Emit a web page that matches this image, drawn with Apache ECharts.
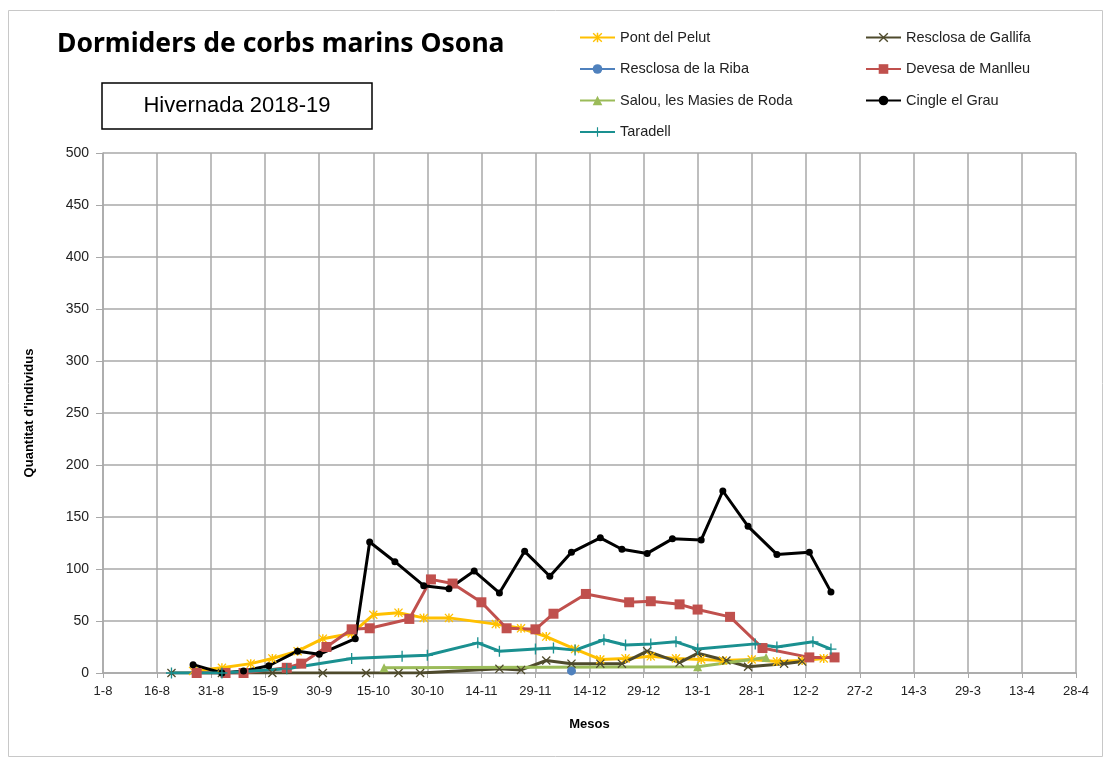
<!DOCTYPE html>
<html>
<head>
<meta charset="utf-8">
<script src="https://cdn.jsdelivr.net/npm/echarts@6/dist/echarts.min.js"></script>
<style>
  html, body { margin: 0; padding: 0; background: #fff; }
  #chart { width: 1104px; height: 760px; }
</style>
</head>
<body>
<div id="chart"></div>
<script>
// dies des de l'1 d'agost de 2018
const pelutDays = [25, 33, 41, 47, 54, 61, 69, 75, 82, 89, 96, 109, 116, 123, 131, 138, 145, 152, 159, 166, 172, 180, 187, 194, 200];
const pelutVals = [2, 5, 9, 14, 21, 33, 38, 56, 58, 53, 53, 47, 43, 35, 23, 13, 14, 16, 14, 13, 12, 13, 11, 12, 14];

const gallifaDays = [19, 33, 47, 61, 73, 82, 88, 110, 116, 123, 130, 138, 144, 151, 160, 165, 173, 179, 189, 194];
const gallifaVals = [0, 0, 0, 0, 0, 0, 0, 4, 3, 12, 9, 9, 9, 21, 10, 19, 12, 6, 9, 11];

const ribaDays = [130];
const ribaVals = [2];

const manlleuDays = [26, 34, 39, 51, 55, 62, 69, 74, 85, 91, 97, 105, 112, 120, 125, 134, 146, 152, 160, 165, 174, 183, 196, 203];
const manlleuVals = [0, 0, 0, 5, 9, 25, 42, 43, 52, 90, 86, 68, 43, 42, 57, 76, 68, 69, 66, 61, 54, 24, 15, 15];

const salouDays = [78, 165, 184];
const salouVals = [5, 6, 15];

const grauDays = [25, 33, 39, 46, 54, 60, 70, 74, 81, 89, 96, 103, 110, 117, 124, 130, 138, 144, 151, 158, 166, 172, 179, 187, 196, 202];
const grauVals = [8, 0, 2, 7, 21, 18, 33, 126, 107, 84, 81, 98, 77, 117, 93, 116, 130, 119, 115, 129, 128, 175, 141, 114, 116, 78];

const taradellDays = [19, 33, 51, 69, 83, 90, 104, 110, 120, 125, 131, 139, 145, 152, 159, 165, 181, 187, 197, 202];
const taradellVals = [0, 0, 4, 14, 16, 17, 29, 21, 23, 24, 22, 32, 27, 28, 30, 23, 28, 25, 30, 23];

const startDate = Date.UTC(2018, 7, 1);
const FontColor = '#222';
const GridColor = '#a8a8a8';

// simbols tipus Excel
const xPath = 'path://M1,0 L5,4 L9,0 L10,1 L6,5 L10,9 L9,10 L5,6 L1,10 L0,9 L4,5 L0,1 Z';
const starPath = 'path://M1,0 L5,4 L9,0 L10,1 L6,5 L10,9 L9,10 L5,6 L1,10 L0,9 L4,5 L0,1 Z M4.2,0 H5.8 V10 H4.2 Z';
const plusPath = 'path://M4.4,0 H5.6 V4.4 H10 V5.6 H5.6 V10 H4.4 V5.6 H0 V4.4 H4.4 Z';

function pairs(days, vals) {
    return days.map((d, i) => [d, vals[i]]);
}

function makeSeries(name, days, vals, color, symbol, size) {
    return {
        name: name,
        type: 'line',
        data: pairs(days, vals),
        symbol: symbol,
        symbolSize: size,
        lineStyle: { color: color, width: 3 },
        itemStyle: { color: color },
        emphasis: { disabled: true },
        z: 3
    };
}

const series = [
    makeSeries('Pont del Pelut', pelutDays, pelutVals, '#FFC000', starPath, 9),
    makeSeries('Resclosa de Gallifa', gallifaDays, gallifaVals, '#4E4A2C', xPath, 9),
    makeSeries('Resclosa de la Riba', ribaDays, ribaVals, '#4F81BD', 'circle', 9),
    makeSeries('Devesa de Manlleu', manlleuDays, manlleuVals, '#C0504D', 'rect', 10),
    makeSeries('Salou, les Masies de Roda', salouDays, salouVals, '#9BBB59', 'triangle', 9),
    makeSeries('Cingle el Grau', grauDays, grauVals, '#000000', 'circle', 7),
    makeSeries('Taradell', taradellDays, taradellVals, '#1A9090', plusPath, 11)
];

const legendText = { color: FontColor, fontSize: 14.5, fontFamily: 'Liberation Sans' };

const chart = echarts.init(document.getElementById('chart'));

const option = {
    animation: false,
    backgroundColor: '#fff',
    textStyle: { fontFamily: 'Liberation Sans' },
    title: {
        text: 'Dormiders de corbs marins Osona',
        left: 52,
        top: 26,
        textStyle: { fontFamily: 'Noto Sans', fontWeight: 'bold', fontSize: 26.5, color: '#000' }
    },
    legend: [
        {
            orient: 'vertical',
            left: 574,
            top: 25,
            itemWidth: 35,
            itemHeight: 12,
            itemGap: 16.5,
            textStyle: legendText,
            data: ['Pont del Pelut', 'Resclosa de la Riba', 'Salou, les Masies de Roda', 'Taradell']
        },
        {
            orient: 'vertical',
            left: 860,
            top: 25,
            itemWidth: 35,
            itemHeight: 12,
            itemGap: 16.5,
            textStyle: legendText,
            data: ['Resclosa de Gallifa', 'Devesa de Manlleu', 'Cingle el Grau']
        }
    ],
    grid: {
        left: 103,
        right: 28,
        top: 153,
        bottom: 87
    },
    xAxis: {
        type: 'value',
        min: 0,
        max: 270,
        interval: 15,
        name: 'Mesos',
        nameLocation: 'middle',
        nameGap: 45,
        nameTextStyle: { fontWeight: 'bold', fontSize: 13, color: '#000' },
        axisLine: { show: true, lineStyle: { color: GridColor, width: 1.5 } },
        axisTick: { show: true, length: 5, lineStyle: { color: GridColor } },
        axisLabel: {
            color: FontColor,
            fontSize: 13,
            margin: 12,
            formatter: v => {
                const d = new Date(startDate + v * 86400000);
                return d.getUTCDate() + '-' + (d.getUTCMonth() + 1);
            }
        },
        splitLine: { show: true, lineStyle: { color: GridColor, width: 1.5 } }
    },
    yAxis: {
        type: 'value',
        min: 0,
        max: 500,
        interval: 50,
        name: "Quantitat d'individus",
        nameLocation: 'middle',
        nameGap: 67,
        nameTextStyle: { fontWeight: 'bold', fontSize: 13, color: '#000' },
        axisLine: { show: true, lineStyle: { color: GridColor, width: 1.5 } },
        axisTick: { show: true, length: 7, lineStyle: { color: GridColor } },
        axisLabel: { color: FontColor, fontSize: 14, margin: 14 },
        splitLine: { show: true, lineStyle: { color: GridColor, width: 1.5 } }
    },
    graphic: [
        {
            type: 'rect',
            shape: { x: 8.5, y: 10.5, width: 1094, height: 746 },
            style: { fill: 'none', stroke: '#c8c8c8', lineWidth: 1 },
            silent: true
        },
        {
            type: 'rect',
            shape: { x: 102, y: 83, width: 270, height: 46 },
            style: { fill: '#fff', stroke: '#000', lineWidth: 1.5 },
            silent: true
        },
        {
            type: 'text',
            x: 237,
            y: 106,
            style: {
                text: 'Hivernada 2018-19',
                fill: '#000',
                font: '22px "Liberation Sans"',
                align: 'center',
                verticalAlign: 'middle'
            },
            silent: true
        }
    ],
    series
};

chart.setOption(option);
</script>
</body>
</html>
